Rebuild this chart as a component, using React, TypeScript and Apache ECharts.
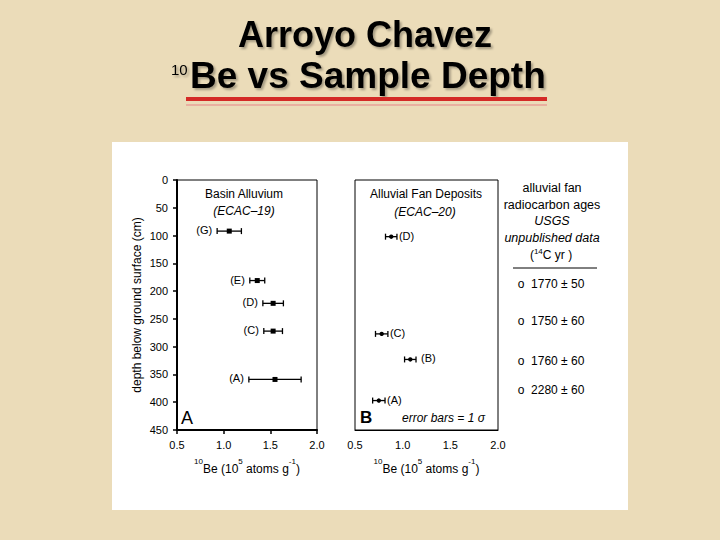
import React, { useEffect, useRef } from "react";
import * as echarts from "echarts";

// ---- data ----
const basinLabels = ["(G)", "(E)", "(D)", "(C)", "(A)"];
const basinBe = [1.06, 1.36, 1.53, 1.53, 1.55];
const basinErr = [0.13, 0.08, 0.11, 0.1, 0.28];
const basinDepth = [92, 181, 222, 272, 359];

const fanLabels = ["(D)", "(C)", "\u00a0(B)", "(A)"];
const fanBe = [0.88, 0.78, 1.08, 0.75];
const fanErr = [0.06, 0.065, 0.06, 0.065];
const fanDepth = [102, 277, 323, 397];

const c14Ages = [1770, 1750, 1760, 2280];
const c14Err = [50, 60, 60, 60];

const xTicks = [0.5, 1.0, 1.5, 2.0];
const depthTicks = [0, 50, 100, 150, 200, 250, 300, 350, 400, 450];

const FONT = 'Arial, "Liberation Sans", sans-serif';

function errorBarSeries(
  be: number[],
  err: number[],
  depth: number[],
  labels: string[],
  axisIndex: number,
  marker: "square" | "circle",
  labelSide: "left" | "right"
) {
  return {
    type: "custom",
    xAxisIndex: axisIndex,
    yAxisIndex: axisIndex,
    encode: { x: 0, y: 1 },
    data: be.map((v, i) => [v, depth[i], err[i]]),
    renderItem: (params: any, api: any) => {
      const v = api.value(0);
      const d = api.value(1);
      const e = api.value(2);
      const lo = api.coord([v - e, d]);
      const hi = api.coord([v + e, d]);
      const c = api.coord([v, d]);
      const cap = 3;
      const ls = { stroke: "#000", lineWidth: 1.3 };
      const children: any[] = [
        { type: "line", shape: { x1: lo[0], y1: lo[1], x2: hi[0], y2: hi[1] }, style: ls },
        { type: "line", shape: { x1: lo[0], y1: lo[1] - cap, x2: lo[0], y2: lo[1] + cap }, style: ls },
        { type: "line", shape: { x1: hi[0], y1: hi[1] - cap, x2: hi[0], y2: hi[1] + cap }, style: ls },
      ];
      if (marker === "square") {
        children.push({ type: "rect", shape: { x: c[0] - 2.5, y: c[1] - 2.5, width: 5, height: 5 }, style: { fill: "#000" } });
      } else {
        children.push({ type: "circle", shape: { cx: c[0], cy: c[1], r: 2.2 }, style: { fill: "#000" } });
      }
      const lab = labels[params.dataIndex];
      children.push({
        type: "text",
        x: labelSide === "left" ? lo[0] - 5 : hi[0] + 2,
        y: c[1] - 1,
        style: {
          text: lab,
          fill: "#000",
          font: `11px ${FONT}`,
          align: labelSide === "left" ? "right" : "left",
          verticalAlign: "middle",
        },
      });
      return { type: "group", children };
    },
  };
}

const supRich = {
  n: { fontSize: 12, fontFamily: FONT, color: "#000", verticalAlign: "bottom", lineHeight: 18 },
  s: { fontSize: 8, fontFamily: FONT, color: "#000", verticalAlign: "top", lineHeight: 18 },
};
const beName = "{s|10}{n|Be (10}{s|5}{n| atoms g}{s|-1}{n|)}";

const titleShadow = {
  textShadowColor: "rgba(0,0,0,0.3)",
  textShadowOffsetX: 2,
  textShadowOffsetY: 2,
  textShadowBlur: 2,
};

export default function App() {
  const ref = useRef<HTMLDivElement>(null);
  useEffect(() => {
    if (!ref.current) return;
    const chart = echarts.init(ref.current, null, { renderer: "svg" });
    const xAxisBase = (idx: number) => ({
      type: "value",
      gridIndex: idx,
      min: xTicks[0],
      max: xTicks[xTicks.length - 1],
      interval: 0.5,
      splitLine: { show: false },
      axisLine: { show: true, onZero: false, lineStyle: { color: "#000", width: idx === 0 ? 2 : 1 } },
      axisTick: { show: idx === 0, length: 4, lineStyle: { color: "#000", width: 1.5 } },
      axisLabel: {
        color: "#000",
        fontSize: 11,
        fontFamily: FONT,
        margin: 9,
        formatter: (v: number) => v.toFixed(1),
      },
      name: beName,
      nameLocation: "middle",
      nameGap: 27,
      nameTextStyle: { rich: supRich },
    });
    const option: any = {
      animation: false,
      backgroundColor: "#ebdcb9",
      graphic: [
        { type: "rect", z: -10, shape: { x: 112, y: 142, width: 516, height: 368 }, style: { fill: "#fff" } },
        {
          type: "text",
          x: 365,
          y: 34,
          style: {
            text: "Arroyo Chavez",
            font: `bold 36px ${FONT}`,
            fill: "#000",
            align: "center",
            verticalAlign: "middle",
            ...titleShadow,
          },
        },
        {
          type: "text",
          x: 171,
          y: 69,
          style: {
            text: "10",
            font: `15px ${FONT}`,
            fill: "#000",
            align: "left",
            verticalAlign: "middle",
            ...titleShadow,
          },
        },
        {
          type: "text",
          x: 190,
          y: 75,
          style: {
            text: "Be vs Sample Depth",
            font: `bold 37px ${FONT}`,
            fill: "#000",
            align: "left",
            verticalAlign: "middle",
            ...titleShadow,
          },
        },
        { type: "rect", shape: { x: 186, y: 97, width: 361, height: 4 }, style: { fill: "#d42a26" } },
        { type: "rect", shape: { x: 186, y: 104, width: 361, height: 2 }, style: { fill: "#e9b0a0" } },
        // panel annotations
        { type: "text", x: 244, y: 194, style: { text: "Basin Alluvium", font: `12px ${FONT}`, fill: "#000", align: "center", verticalAlign: "middle" } },
        { type: "text", x: 244, y: 211, style: { text: "(ECAC\u201319)", font: `italic 12px ${FONT}`, fill: "#000", align: "center", verticalAlign: "middle" } },
        { type: "text", x: 181, y: 418, style: { text: "A", font: `18px ${FONT}`, fill: "#000", align: "left", verticalAlign: "middle" } },
        { type: "text", x: 426, y: 194, style: { text: "Alluvial Fan Deposits", font: `12px ${FONT}`, fill: "#000", align: "center", verticalAlign: "middle" } },
        { type: "text", x: 425, y: 212, style: { text: "(ECAC\u201320)", font: `italic 12px ${FONT}`, fill: "#000", align: "center", verticalAlign: "middle" } },
        { type: "text", x: 360, y: 417, style: { text: "B", font: `bold 17px ${FONT}`, fill: "#000", align: "left", verticalAlign: "middle" } },
        { type: "text", x: 402, y: 418, style: { text: "error bars = 1 \u03c3", font: `italic 12px ${FONT}`, fill: "#000", align: "left", verticalAlign: "middle" } },
        // radiocarbon column
        { type: "text", x: 552, y: 188, style: { text: "alluvial fan", font: `12.5px ${FONT}`, fill: "#000", align: "center", verticalAlign: "middle" } },
        { type: "text", x: 552, y: 205, style: { text: "radiocarbon ages", font: `12.5px ${FONT}`, fill: "#000", align: "center", verticalAlign: "middle" } },
        { type: "text", x: 552, y: 221, style: { text: "USGS", font: `italic 12.5px ${FONT}`, fill: "#000", align: "center", verticalAlign: "middle" } },
        { type: "text", x: 552, y: 238, style: { text: "unpublished data", font: `italic 12.5px ${FONT}`, fill: "#000", align: "center", verticalAlign: "middle" } },
        {
          type: "text",
          x: 551,
          y: 255,
          style: {
            text: "({s|14}C yr )",
            font: `12px ${FONT}`,
            fill: "#000",
            align: "center",
            verticalAlign: "middle",
            rich: { s: { fontSize: 8, fontFamily: FONT, verticalAlign: "top", lineHeight: 16 } },
          },
        },
        { type: "line", shape: { x1: 513, y1: 268, x2: 597, y2: 268 }, style: { stroke: "#000", lineWidth: 1 } },
        ...c14Ages.map((a, i) => ({
          type: "text",
          x: 551,
          y: [284, 321, 361, 390][i],
          style: {
            text: `o  ${a} \u00b1 ${c14Err[i]}`,
            font: `12px ${FONT}`,
            fill: "#000",
            align: "center",
            verticalAlign: "middle",
          },
        })),
      ],
      grid: [
        { left: 177, top: 180, width: 140, height: 250, show: true, borderColor: "#000", borderWidth: 1, backgroundColor: "transparent" },
        { left: 355, top: 180, width: 143, height: 250, show: true, borderColor: "#000", borderWidth: 1, backgroundColor: "transparent" },
      ],
      xAxis: [xAxisBase(0), xAxisBase(1)],
      yAxis: [
        {
          type: "value",
          gridIndex: 0,
          inverse: true,
          min: depthTicks[0],
          max: depthTicks[depthTicks.length - 1],
          interval: 50,
          splitLine: { show: false },
          axisLine: { show: true, lineStyle: { color: "#000", width: 2 } },
          axisTick: { show: true, length: 4, lineStyle: { color: "#000", width: 1.5 } },
          axisLabel: { color: "#000", fontSize: 11, fontFamily: FONT, margin: 9 },
          name: "depth below ground surface (cm)",
          nameLocation: "middle",
          nameRotate: 90,
          nameGap: 34,
          nameTextStyle: { color: "#000", fontSize: 12, fontFamily: FONT },
        },
        {
          type: "value",
          gridIndex: 1,
          inverse: true,
          min: depthTicks[0],
          max: depthTicks[depthTicks.length - 1],
          interval: 50,
          splitLine: { show: false },
          axisLine: { show: false },
          axisTick: { show: false },
          axisLabel: { show: false },
        },
      ],
      series: [
        errorBarSeries(basinBe, basinErr, basinDepth, basinLabels, 0, "square", "left"),
        errorBarSeries(fanBe, fanErr, fanDepth, fanLabels, 1, "circle", "right"),
      ],
    };
    chart.setOption(option);
    return () => chart.dispose();
  }, []);
  return <div ref={ref} style={{ position: "fixed", left: 0, top: 0, width: 720, height: 540 }} />;
}
